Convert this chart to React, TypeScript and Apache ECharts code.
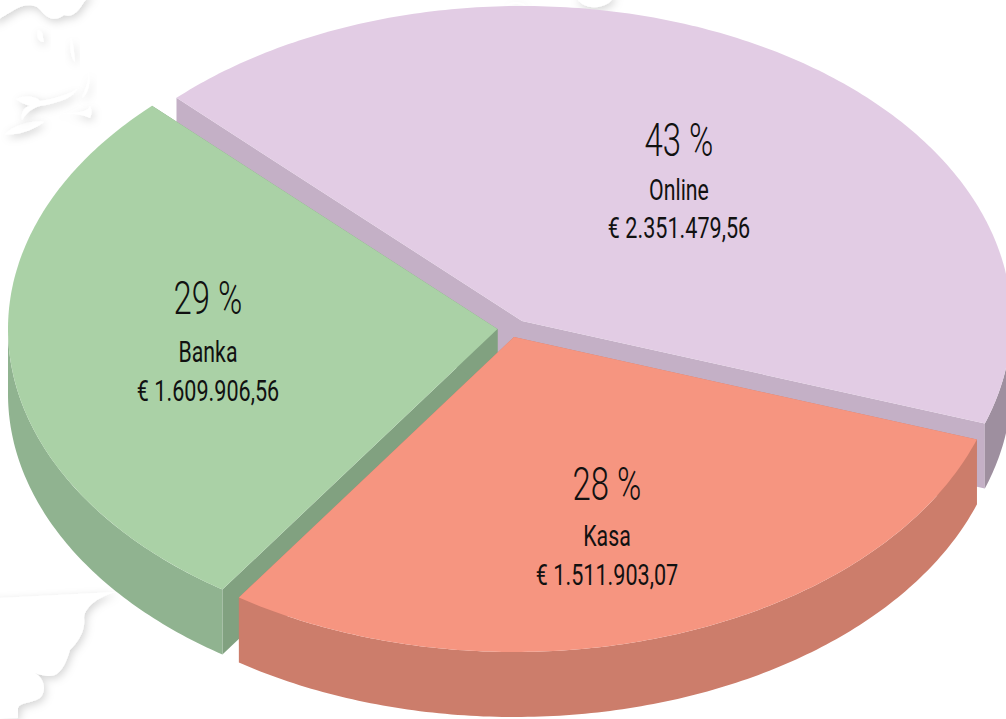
import React, { useEffect, useRef } from "react";
import * as echarts from "echarts";

// Slices in painting order (back to front)
const categories = ["Online", "Banka", "Kasa"];
const percentLabels = ["43 %", "29 %", "28 %"];
const amountLabels = ["€ 2.351.479,56", "€ 1.609.906,56", "€ 1.511.903,07"];
// Share of the circle that each slice covers in the picture, in percent
const drawnShare = [42.75, 28.03, 29.22];

const topColors = ["#E2CCE4", "#AAD1A6", "#F69580"];
const wallColors = ["#C4B0C6", "#81A180", "#CC7D6B"];
const rimColors = ["#9E8F9F", "#90B390", "#CC7D6B"];
const apexes = [[522, 321], [497.5, 329], [514, 337]];
const labelX = [679, 208, 607];
const percentY = [140, 298, 484];
const nameY = [190, 352, 536];
const amountY = [228, 391, 575];

const RX = 489.5;
const RY = 315;
const DEPTH = 65;
const FIRST_END_DEG = 19;

const blobs = [
  "M14 10 C24 4 36 3 42 12 C50 21 58 20 64 15 C72 18 78 12 84 2 L92 -6 L-6 -6 L-6 22 Z",
  "M38 30 C36 36 38 42 44 42 C42 36 44 32 38 30 Z",
  "M71 38 C70 48 70 56 75 62 C74 54 74 46 71 38 Z",
  "M88 72 C90 82 84 90 82 98 C86 96 92 84 88 72 Z",
  "M5 134 C20 136 36 128 44 122 C30 120 16 126 10 130 Z",
  "M16 99 C24 95 36 96 40 101 C52 99 68 95 77 89 C74 97 60 102 46 105 C36 106 28 110 22 120 C20 112 26 106 30 106 C24 104 20 102 16 99 Z",
  "M56 115 C66 112 82 114 90 118 C92 114 92 110 90 106 C88 114 70 112 56 115 Z",
  "M116 592 C100 596 85 606 84 618 C86 632 76 644 70 650 C66 664 60 676 50 676 C44 676 38 674 35 673 C46 680 46 692 40 698 C30 704 20 702 18 708 L18 718 L0 719 L-10 740 L-40 600 Z",
  "M506 6 C510 1 522 1 526 6 C520 3 512 3 506 6 Z",
  "M576 -4 C578 4 590 10 602 6 C610 4 614 -2 614 -6 Z"
];

function sliceGeometry(sharePct: number, endDeg: number) {
  const sweep = (sharePct / 100) * 360;
  return { start: endDeg - sweep, end: endDeg };
}

function App() {
  const ref = useRef<HTMLDivElement>(null);
  useEffect(() => {
    document.body.style.margin = "0";
    const chart = echarts.init(ref.current!, undefined, { renderer: "svg" });

    const rad = (d: number) => (d * Math.PI) / 180;
    const arcPts = (cx: number, cy: number, a: number, b: number, dy = 0) => {
      const pts: number[][] = [];
      const n = Math.max(2, Math.ceil(Math.abs(b - a) / 0.75));
      for (let i = 0; i <= n; i++) {
        const t = rad(a + ((b - a) * i) / n);
        pts.push([cx + RX * Math.cos(t), cy + RY * Math.sin(t) + dy]);
      }
      return pts;
    };

    const renderSlice = (params: any, api: any) => {
      const i = params.dataIndex;
      let end = FIRST_END_DEG;
      for (let k = 0; k < i; k++) end -= (drawnShare[k] / 100) * 360;
      const { start } = sliceGeometry(api.value(0), end);
      const [cx, cy] = apexes[i];
      const top = arcPts(cx, cy, start, end);
      const first = top[0];
      const last = top[top.length - 1];
      const wall = (p: number[]) => ({
        type: "polygon",
        silent: true,
        shape: { points: [[cx, cy], p, [p[0], p[1] + DEPTH], [cx, cy + DEPTH]] },
        style: { fill: wallColors[i] }
      });
      const children: any[] = [wall(first), wall(last)];
      // The outer rim only shows on the front half of the ellipse (0..180 degrees)
      const norm = ((start % 360) + 360) % 360;
      const rimRanges: number[][] = [];
      if (i === 0) rimRanges.push([0, end]);
      else if (i === 1) rimRanges.push([norm, 180]);
      else rimRanges.push([norm, norm + (end - start)]);
      rimRanges.forEach(([a, b]) => {
        const upper = arcPts(cx, cy, a, b);
        const lower = arcPts(cx, cy, a, b, DEPTH).reverse();
        children.push({
          type: "polygon",
          silent: true,
          shape: { points: upper.concat(lower) },
          style: { fill: rimColors[i] }
        });
      });
      children.push({
        type: "polygon",
        silent: true,
        shape: { points: [[cx, cy], ...top] },
        style: { fill: topColors[i] }
      });
      const lx = labelX[i];
      const label = (text: string, y: number, size: number, weight: number, sx: number) => ({
        type: "text",
        silent: true,
        x: lx,
        y,
        scaleX: sx,
        style: {
          text,
          fontFamily: "Roboto",
          fontSize: size,
          fontWeight: weight,
          fill: "#111111",
          align: "center",
          verticalAlign: "middle"
        }
      });
      children.push(label(percentLabels[i], percentY[i], 47, 300, 0.7));
      children.push(label(categories[i], nameY[i], 30, 400, 0.71));
      children.push(label(amountLabels[i], amountY[i], 30, 400, 0.72));
      return { type: "group", children };
    };

    const renderBlobs = () => ({
      type: "group",
      children: blobs.map((d) => ({
        type: "path",
        silent: true,
        shape: { pathData: d },
        style: {
          fill: "#ffffff",
          shadowColor: "rgba(0,0,0,0.17)",
          shadowBlur: 8,
          shadowOffsetX: 2,
          shadowOffsetY: 3
        }
      }))
    });

    chart.setOption({
      animation: false,
      backgroundColor: "#ffffff",
      series: [
        {
          type: "custom",
          coordinateSystem: "none",
          silent: true,
          data: [0],
          renderItem: renderBlobs
        },
        {
          type: "custom",
          coordinateSystem: "none",
          silent: true,
          data: drawnShare.map((v, i) => ({ name: categories[i], value: [v] })),
          renderItem: renderSlice
        }
      ]
    });
    return () => chart.dispose();
  }, []);
  return <div ref={ref} style={{ width: 1006, height: 719 }} />;
}

export default App;
